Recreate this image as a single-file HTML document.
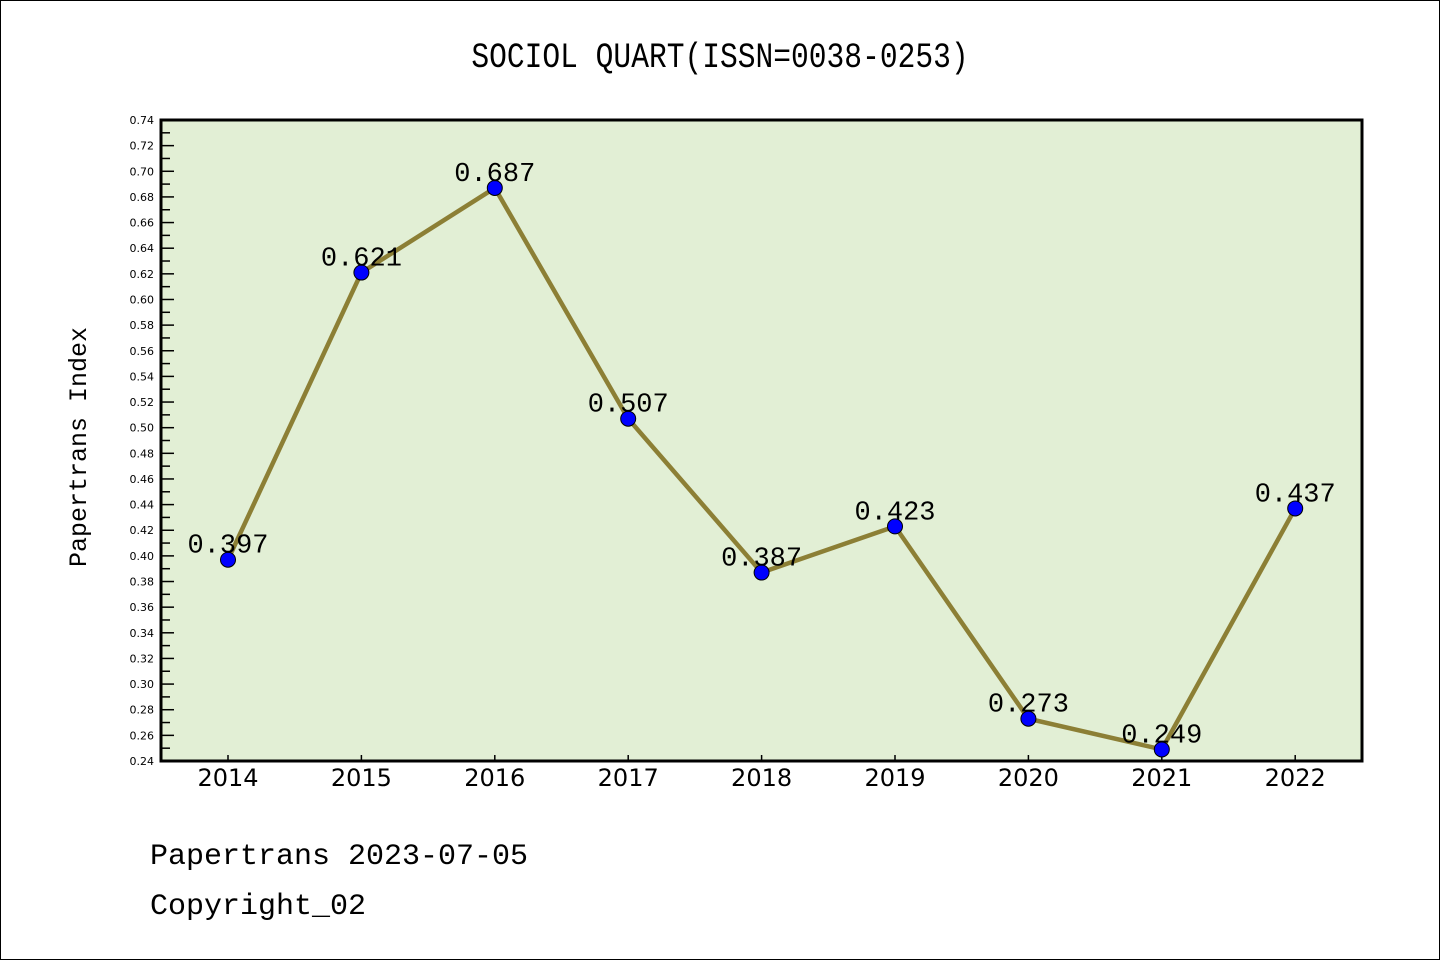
<!DOCTYPE html>
<html><head><meta charset="utf-8"><style>
body{margin:0;background:#fff}
#wrap{position:relative;width:1438px;height:958px;border:1px solid #000;overflow:hidden}
text{font-family:"Liberation Mono","WenQuanYi Zen Hei",monospace}
</style></head><body>
<div id="wrap">
<svg id="svg" width="1438" height="958" xmlns="http://www.w3.org/2000/svg">
<text x="719" y="66" font-size="29.6" text-anchor="middle" transform="translate(0,-13) scale(1,1.2)">SOCIOL QUART(ISSN=0038-0253)</text>
<rect x="160" y="119" width="1201" height="641" fill="#e2efd5"/>
<g id="ticks"></g>
<g id="series"></g>
<rect x="160" y="119" width="1201" height="641" fill="none" stroke="#000" stroke-width="3"/>
<text x="85" y="446" font-size="25" text-anchor="middle" transform="rotate(-90 85 446)">Papertrans Index</text>
<text x="149" y="863" font-size="30">Papertrans 2023-07-05</text>
<text x="149" y="913" font-size="30">Copyright_02</text>
</svg></div>
<script>
const categories=["2014","2015","2016","2017","2018","2019","2020","2021","2022"];
const values=[0.397,0.621,0.687,0.507,0.387,0.423,0.273,0.249,0.437];
const yTicks=[0.24,0.26,0.28,0.30,0.32,0.34,0.36,0.38,0.40,0.42,0.44,0.46,0.48,0.50,0.52,0.54,0.56,0.58,0.60,0.62,0.64,0.66,0.68,0.70,0.72,0.74];
const NS="http://www.w3.org/2000/svg";
const y0=760,y1=119,vmin=0.24,vmax=0.74;
const yS=v=>y0-(v-vmin)/(vmax-vmin)*(y0-y1);
const xS=i=>227+i*133.4;
function mk(t,a,p){const e=document.createElementNS(NS,t);for(const k in a)e.setAttribute(k,a[k]);p.appendChild(e);return e;}
const tg=document.getElementById('ticks'),sg=document.getElementById('series');
yTicks.forEach((v,i)=>{
 const y=yS(v);
 const l=mk('line',{x1:160,x2:173,y1:y,y2:y,stroke:'#000','stroke-width':1.5},tg);
 
 
 if(i<yTicks.length-1){const ym=yS(v+0.01);
  const m=mk('line',{x1:160,x2:169,y1:ym,y2:ym,stroke:'#000','stroke-width':1.5},tg);
  
  }
 const t=mk('text',{x:153,y:y+4,'font-size':11,'text-anchor':'end',style:'font-family:"DejaVu Sans",sans-serif'},tg);
 t.textContent=v.toFixed(2);
 
 
});
categories.forEach((c,i)=>{
 const x=xS(i);
 const l=mk('line',{x1:x,x2:x,y1:760,y2:754,stroke:'#000','stroke-width':1.5},tg);
 
 
 const t=mk('text',{x:x,y:785,'font-size':24,'text-anchor':'middle',style:'font-family:"DejaVu Sans",sans-serif'},tg);
 t.textContent=c;
 
 
});
const pl=mk('polyline',{points:values.map((v,i)=>xS(i)+','+yS(v)).join(' '),fill:'none',stroke:'#8c7f35','stroke-width':4.5},sg);


values.forEach((v,i)=>{
 const c=mk('circle',{cx:xS(i),cy:yS(v),r:7.5,fill:'#0000ff',stroke:'#000','stroke-width':1},sg);
 
 
 const t=mk('text',{x:xS(i),y:yS(v)-7,'font-size':27,'text-anchor':'middle'},sg);
 t.textContent=v.toFixed(3);
 
 
});
</script>
</body></html>
